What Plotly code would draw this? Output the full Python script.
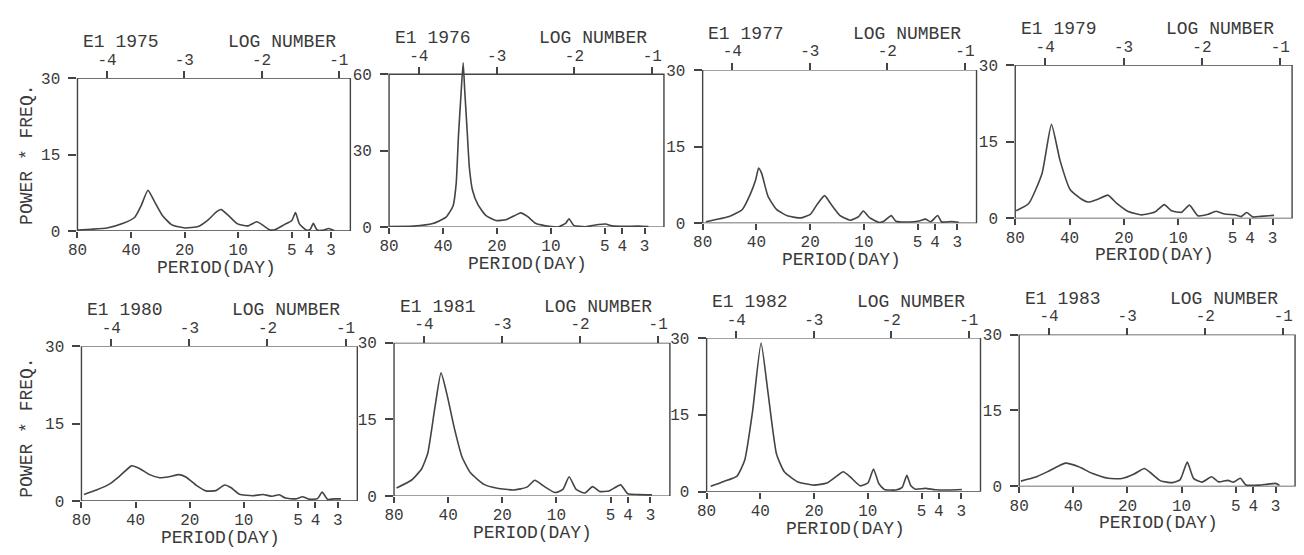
import numpy as np
import plotly.graph_objects as go

W, H = 1304, 555

# ---- data: power * frequency against log-frequency (LOG NUMBER = ln(1/period)) ----
years = ["1975", "1976", "1977", "1979", "1980", "1981", "1982", "1983"]

ln_1975 = [-4.38, -4.20, -4.00, -3.79, -3.64, -3.56, -3.47, -3.39, -3.28, -3.16, -2.99, -2.82,
           -2.69, -2.58, -2.52, -2.44, -2.31, -2.18, -2.06, -1.97, -1.89, -1.82, -1.70, -1.61,
           -1.56, -1.51, -1.42, -1.37, -1.33, -1.28, -1.19, -1.13, -1.06]
pw_1975 = [0.2, 0.35, 0.6, 1.5, 2.7, 4.9, 8.0, 5.9, 3.0, 1.2, 0.6, 0.9,
           2.2, 3.8, 4.2, 3.2, 1.4, 1.0, 1.8, 1.0, 0.2, 0.3, 1.3, 2.0,
           3.6, 1.4, 0.2, 0.3, 1.5, 0.2, 0.2, 0.5, 0.1]

ln_1976 = [-4.38, -4.07, -3.82, -3.65, -3.56, -3.52, -3.49, -3.46, -3.43, -3.41, -3.38, -3.35,
           -3.31, -3.24, -3.14, -3.01, -2.88, -2.75, -2.69, -2.60, -2.50, -2.37, -2.20, -2.11,
           -2.07, -2.01, -1.86, -1.69, -1.60, -1.52, -1.35, -1.18, -1.05]
pw_1976 = [0.25, 0.4, 1.4, 3.9, 8.3, 17.0, 36.0, 51.0, 64.5, 53.6, 38.5, 23.3,
           14.5, 8.8, 4.6, 2.6, 2.9, 4.8, 5.6, 4.1, 1.5, 0.5, 0.15, 1.6,
           3.3, 0.7, 0.15, 1.0, 1.2, 0.5, 0.3, 0.4, 0.2]

ln_1977 = [-4.34, -4.04, -3.87, -3.77, -3.70, -3.66, -3.62, -3.54, -3.43, -3.28, -3.11, -2.99,
           -2.90, -2.81, -2.73, -2.61, -2.48, -2.37, -2.31, -2.23, -2.10, -2.04, -1.95, -1.89,
           -1.72, -1.59, -1.51, -1.44, -1.35, -1.30, -1.17, -1.08]
pw_1977 = [0.3, 1.3, 2.7, 5.6, 8.4, 10.8, 9.7, 5.3, 2.7, 1.4, 1.05, 1.8,
           3.8, 5.4, 3.8, 1.5, 0.6, 1.3, 2.4, 1.1, 0.15, 0.45, 1.5, 0.4,
           0.25, 0.45, 0.8, 0.3, 1.5, 0.25, 0.35, 0.2]

ln_1979 = [-4.37, -4.21, -4.04, -3.92, -3.81, -3.68, -3.53, -3.45, -3.32, -3.20, -3.09, -2.94,
           -2.77, -2.60, -2.48, -2.39, -2.26, -2.16, -2.05, -1.92, -1.82, -1.71, -1.58, -1.50,
           -1.43, -1.35, -1.25, -1.08]
pw_1979 = [1.5, 2.9, 8.8, 18.4, 11.3, 5.6, 3.7, 3.2, 3.8, 4.55, 3.0, 1.35,
           0.7, 1.25, 2.7, 1.5, 1.2, 2.6, 0.5, 0.8, 1.4, 0.85, 0.7, 0.35,
           1.15, 0.3, 0.4, 0.6]

ln_1980 = [-4.35, -4.19, -4.02, -3.89, -3.74, -3.64, -3.51, -3.38, -3.26, -3.13, -3.04, -2.91,
           -2.79, -2.66, -2.55, -2.47, -2.36, -2.19, -2.06, -1.94, -1.85, -1.77, -1.64, -1.55,
           -1.47, -1.36, -1.30, -1.23, -1.15, -1.06]
pw_1980 = [1.25, 2.1, 3.3, 4.85, 6.8, 6.3, 5.1, 4.5, 4.7, 5.1, 4.6, 3.0,
           1.95, 2.0, 3.1, 2.6, 1.3, 1.0, 1.25, 0.9, 1.2, 0.55, 0.4, 0.8,
           0.35, 0.45, 1.7, 0.3, 0.4, 0.4]

ln_1981 = [-4.35, -4.16, -4.03, -3.95, -3.86, -3.78, -3.70, -3.61, -3.51, -3.40, -3.23, -3.06,
           -2.85, -2.68, -2.58, -2.47, -2.32, -2.22, -2.14, -2.05, -1.94, -1.84, -1.75, -1.63,
           -1.48, -1.39, -1.25, -1.08]
pw_1981 = [1.6, 3.1, 5.3, 8.4, 17.2, 24.1, 19.6, 13.3, 7.6, 4.5, 2.3, 1.55,
           1.2, 1.75, 3.1, 2.0, 0.7, 1.3, 3.8, 1.3, 0.6, 1.85, 0.9, 1.0,
           2.2, 0.45, 0.3, 0.25]

ln_1982 = [-4.33, -4.16, -3.99, -3.89, -3.79, -3.68, -3.59, -3.48, -3.38, -3.21, -3.00, -2.83,
           -2.70, -2.62, -2.53, -2.40, -2.30, -2.23, -2.16, -2.09, -1.94, -1.86, -1.80, -1.75,
           -1.69, -1.56, -1.43, -1.26, -1.09]
pw_1982 = [1.05, 2.0, 3.05, 6.2, 15.6, 29.0, 19.3, 7.3, 3.9, 1.95, 1.3, 1.7,
           3.1, 3.9, 2.9, 1.15, 1.75, 4.45, 1.55, 0.45, 0.35, 0.85, 3.2, 1.2,
           0.5, 0.65, 0.4, 0.35, 0.45]

ln_1983 = [-4.36, -4.17, -4.00, -3.79, -3.62, -3.45, -3.24, -3.07, -2.91, -2.78, -2.70, -2.57,
           -2.42, -2.32, -2.23, -2.15, -2.04, -1.92, -1.83, -1.71, -1.64, -1.55, -1.48, -1.31,
           -1.22, -1.10, -1.05]
pw_1983 = [1.05, 1.85, 3.05, 4.6, 3.9, 2.6, 1.6, 1.55, 2.45, 3.55, 2.7, 1.1,
           0.75, 1.35, 4.8, 1.6, 0.85, 1.9, 0.9, 1.2, 0.85, 1.6, 0.3, 0.25,
           0.4, 0.6, 0.2]

series_x = [ln_1975, ln_1976, ln_1977, ln_1979, ln_1980, ln_1981, ln_1982, ln_1983]
series_y = [pw_1975, pw_1976, pw_1977, pw_1979, pw_1980, pw_1981, pw_1982, pw_1983]
y_max = [30, 60, 30, 30, 30, 30, 30, 30]

period_ticks = [80, 40, 20, 10, 5, 4, 3]
log_ticks = [-4, -3, -2, -1]

# ---- layout geometry (pixels): left, right, top, bottom of each frame ----
boxes = [
    (68, 343, 73.5, 231.5), (382, 659, 69.5, 227.5), (698, 974, 65, 223.5), (1013, 1292, 60, 218.5),
    (72, 350, 350.5, 510.5), (387, 665, 347, 505.5), (702, 978, 342, 501), (1017, 1295, 338.5, 495.5),
]
headroom = [1.0, 66 / 60, 1.0, 1.0, 1.0, 1.0, 1.0, 1.0]   # 1976 peak rises above its frame

X_RANGE = [float(np.log(1 / 80)), -0.85]
INK = "#444444"
TXT = "#3a3a3a"
FONT = "Liberation Mono"
TICK_FONT = dict(family=FONT, size=16, color=TXT)
ANN_FONT = dict(family=FONT, size=18, color=TXT)


def px(x):
    return x / W


def py(y):
    return 1 - y / H


def suffix(n):
    return "" if n == 1 else str(n)


fig = go.Figure()
layout = {}
shapes = []
annotations = []

for i, (yr, xs, ys) in enumerate(zip(years, series_x, series_y)):
    s = suffix(i + 1)
    st = suffix(9 + i)
    left, right, top, bottom = boxes[i]
    ymax = y_max[i]
    ytop_range = ymax * headroom[i]
    dom_top = bottom - (bottom - top) * headroom[i]

    fig.add_trace(go.Scatter(
        x=xs, y=ys, mode="lines", xaxis=f"x{s}", yaxis=f"y{s}",
        line=dict(color=INK, width=1.6, shape="spline", smoothing=0.5),
        showlegend=False, hoverinfo="skip",
    ))
    # registers the LOG NUMBER axis on the same subplot (a single point draws no line)
    fig.add_trace(go.Scatter(
        x=[X_RANGE[0]], y=[0], mode="lines", xaxis=f"x{st}", yaxis=f"y{s}",
        line=dict(color=INK, width=1), showlegend=False, hoverinfo="skip",
    ))

    common = dict(showgrid=False, zeroline=False, ticks="outside",
                  tickwidth=1.5, tickcolor=INK, showline=False, tickfont=TICK_FONT)

    layout[f"xaxis{s}"] = dict(
        domain=[px(left), px(right)], anchor=f"y{s}", range=X_RANGE,
        tickmode="array", tickvals=[float(np.log(1 / p)) for p in period_ticks],
        ticktext=[str(p) for p in period_ticks], ticklen=6, ticklabelstandoff=-2, **common)
    layout[f"xaxis{st}"] = dict(
        overlaying=f"x{s}", side="top", anchor="free", position=py(top), range=X_RANGE,
        tickmode="array", tickvals=log_ticks, ticktext=[str(v) for v in log_ticks],
        ticklen=7, ticklabelstandoff=0, **common)
    layout[f"yaxis{s}"] = dict(
        domain=[py(bottom), py(dom_top)], anchor=f"x{s}", range=[0, ytop_range],
        tickmode="array", tickvals=[0, ymax / 2, ymax],
        ticktext=[str(int(v)) for v in (0, ymax / 2, ymax)],
        ticklen=8, ticklabelstandoff=5, **common)

    # frame drawn in data units so the 1976 peak may pass over its top edge
    shapes.append(dict(type="rect", xref=f"x{s} domain", yref=f"y{s}", x0=0, x1=1, y0=0, y1=ymax,
                       line=dict(color=INK, width=1.4), layer="above"))

    annotations.append(dict(text=f"E1 {yr}", x=px(left + 44), y=py(top - 37), xref="paper",
                            yref="paper", showarrow=False, font=ANN_FONT,
                            xanchor="center", yanchor="middle"))
    annotations.append(dict(text="LOG NUMBER", x=px(left + 206), y=py(top - 37), xref="paper",
                            yref="paper", showarrow=False, font=ANN_FONT,
                            xanchor="center", yanchor="middle"))
    annotations.append(dict(text="PERIOD(DAY)", x=px(left + 140), y=py(bottom + 38), xref="paper",
                            yref="paper", showarrow=False, font=ANN_FONT,
                            xanchor="center", yanchor="middle"))

for yc in (153, 435):
    annotations.append(dict(text="POWER * FREQ.", x=px(17), y=py(yc), xref="paper", yref="paper",
                            showarrow=False, textangle=-90, font=ANN_FONT,
                            xanchor="center", yanchor="middle"))

fig.update_layout(
    width=W, height=H, margin=dict(l=0, r=0, t=0, b=0),
    paper_bgcolor="white", plot_bgcolor="white",
    shapes=shapes, annotations=annotations, showlegend=False,
    **layout,
)

fig.write_html("out.html")
